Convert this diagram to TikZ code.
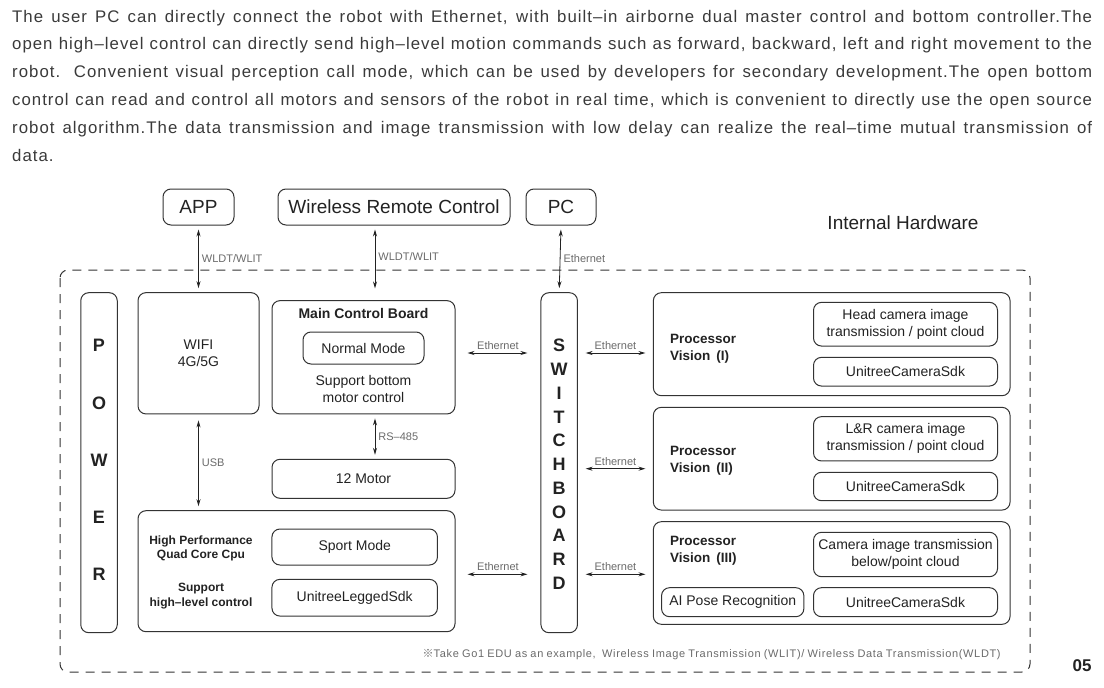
\documentclass[tikz,border=0pt]{standalone}
\usepackage{fontspec}
\setmainfont{Liberation Sans}
\newfontfamily\widefont[LetterSpace=6]{Liberation Sans}
\newfontfamily\cjkfont{Noto Sans CJK SC}
\usetikzlibrary{arrows.meta}
\newcommand\sz[2]{\fontsize{#1}{#2}\selectfont}
\definecolor{ink}{HTML}{222222}
\definecolor{edgec}{HTML}{333333}
\definecolor{soft}{HTML}{6A6A6A}
\definecolor{para}{HTML}{3A3A3A}

\begin{document}
\begin{tikzpicture}[x=1pt, y=-1pt,
    blk/.style={draw=edgec, line width=1pt, rounded corners=8pt, text=ink, align=center, inner sep=0pt, font=\sz{14}{17}},
    tall/.style={blk, minimum width=36.5pt, minimum height=340pt},
    letter/.style={text=ink, font=\bfseries\sz{18}{20}, inner sep=0pt},
    wirelbl/.style={text=soft, font=\sz{11}{13}, inner sep=3pt},
    bi/.style={{Stealth[length=7pt,width=4pt]}-{Stealth[length=7pt,width=4pt]}, line width=0.8pt, draw=ink}]
    \useasboundingbox (0,0) rectangle (1104,688);

    \foreach \t [count=\i from 0] in {{The user PC can directly connect the robot with Ethernet, with built–in airborne dual master control and bottom controller.The},{open high–level control can directly send high–level motion commands such as forward, backward, left and right movement to the},{robot. Convenient visual perception call mode, which can be used by developers for secondary development.The open bottom},{control can read and control all motors and sensors of the robot in real time, which is convenient to directly use the open source},{robot algorithm.The data transmission and image transmission with low delay can realize the real–time mutual transmission of}}
        \node[anchor=base west, inner sep=0pt, text=para, font=\widefont\sz{16.8}{19}] (line\i) at (12,22+27.8*\i) {\makebox[1080pt][s]{\t}};
    \node[anchor=base west, inner sep=0pt, text=para, font=\widefont\sz{16.8}{19}] (line5) at (12,161) {data.};

    \node[blk, font=\sz{19}{22}, minimum width=71pt, minimum height=36pt] (app) at (198.5,207) {APP};
    \node[blk, font=\sz{19}{22}, minimum width=232pt, minimum height=36pt] (wrc) at (394,207) {Wireless Remote Control};
    \node[blk, font=\sz{19}{22}, minimum width=70pt, minimum height=36pt] (pc) at (561,207) {PC};
    \node[text=ink, font=\sz{19}{22}] (hw) at (903,222.7) {Internal Hardware};

    \draw[edgec, line width=1pt, dash pattern=on 9pt off 7pt, rounded corners=8pt] (60,270) rectangle (1030,672);

    \node[tall] (pow) at (99,462.7) {};
    \foreach \c [count=\i from 0] in {P,O,W,E,R}
        \node[letter] (pow\i) at (99,345.7+57.15*\i) {\c};
    \node[tall] (sw) at (559.2,462.7) {};
    \foreach \c [count=\i from 0] in {S,W,I,T,C,H,B,O,A,R,D}
        \node[letter] (sw\i) at (559.2,345.7+23.76*\i) {\c};

    \node[blk, minimum width=121pt, minimum height=121.3pt] (wifi) at (198.5,353.3) {WIFI\\4G/5G};

    \node[blk, minimum width=183pt, minimum height=113.3pt] (mcb) at (363.5,357.3) {};
    \node[text=ink, font=\bfseries\sz{14}{17}] (mcbt) at (363.5,313.3) {Main Control Board};
    \node[blk, minimum width=121pt, minimum height=32pt] (normal) at (363.5,348) {Normal Mode};
    \node[text=ink, align=center, font=\sz{14}{17}] (mcbs) at (363.5,388.8) {Support bottom\\motor control};
    \node[blk, minimum width=183pt, minimum height=39pt] (motor) at (363.5,478.8) {12 Motor};

    \node[blk, minimum width=317pt, minimum height=121pt] (hp) at (296.5,571.2) {};
    \node[text=ink, align=center, font=\bfseries\sz{12}{14}] (cpu) at (201,548) {High Performance\\Quad Core Cpu};
    \node[text=ink, align=center, font=\bfseries\sz{12}{15}] (hlc) at (201,595.8) {Support\\high–level control};
    \node[blk, minimum width=165.5pt, minimum height=36pt] (sport) at (354.7,547) {Sport Mode};
    \node[blk, minimum width=165.5pt, minimum height=36.7pt] (legged) at (354.7,597.7) {UnitreeLeggedSdk};

    \node[blk, minimum width=356.7pt, minimum height=103pt] (pv1) at (831.7,344.2) {};
    \node[text=ink, align=left, anchor=west, inner sep=0pt, font=\bfseries\sz{13.5}{16.7}] (pv1t) at (670,348.7) {Processor\\Vision~\,(I)};
    \node[blk, minimum width=184pt, minimum height=43.7pt] (cam1) at (905.5,324.2) {Head camera image\\transmission / point cloud};
    \node[blk, minimum width=184pt, minimum height=28.7pt] (sdk1) at (905.5,371.7) {UnitreeCameraSdk};

    \node[blk, minimum width=356.7pt, minimum height=102.7pt] (pv2) at (831.7,458.7) {};
    \node[text=ink, align=left, anchor=west, inner sep=0pt, font=\bfseries\sz{13.5}{16.7}] (pv2t) at (670,460.7) {Processor\\Vision~\,(II)};
    \node[blk, minimum width=184pt, minimum height=44.3pt] (cam2) at (905.5,438.8) {L\&R camera image\\transmission / point cloud};
    \node[blk, minimum width=184pt, minimum height=28.4pt] (sdk2) at (905.5,486.5) {UnitreeCameraSdk};

    \node[blk, minimum width=356.7pt, minimum height=102.6pt] (pv3) at (831.7,573) {};
    \node[text=ink, align=left, anchor=west, inner sep=0pt, font=\bfseries\sz{13.5}{16.7}] (pv3t) at (670,551) {Processor\\Vision~\,(III)};
    \node[blk, minimum width=184pt, minimum height=44.4pt] (cam3) at (905.5,554.5) {Camera image transmission\\below/point cloud};
    \node[blk, minimum width=142.3pt, minimum height=29pt] (pose) at (732.7,602.2) {AI Pose Recognition};
    \node[blk, minimum width=184pt, minimum height=29pt] (sdk3) at (905.5,602.2) {UnitreeCameraSdk};

    \coordinate (rsx) at (375,0);
    \coordinate (e1) at (0,353);
    \coordinate (e2) at (0,468.7);
    \coordinate (e3) at (0,574.3);

    \draw[bi, shorten <=4pt, shorten >=4pt] (app.south) -- node[wirelbl, right]{WLDT/WLIT} (wifi.north);
    \draw[bi, shorten <=4pt, shorten >=11.7pt] (wrc.south -| rsx) -- node[wirelbl, right, pos=0.42]{WLDT/WLIT} (mcb.north -| rsx);
    \draw[bi, shorten <=4pt, shorten >=4pt] (pc.south) -- node[wirelbl, right]{Ethernet} (sw.north);
    \draw[bi, shorten <=4pt, shorten >=4pt] (mcb.south -| rsx) -- node[wirelbl, right]{RS–485} (motor.north -| rsx);
    \draw[bi, shorten <=6pt, shorten >=4pt] (wifi.south) -- node[wirelbl, right]{USB} (wifi.south |- hp.north);
    \draw[bi, shorten <=12pt, shorten >=13pt] (mcb.east |- e1) -- node[wirelbl, above]{Ethernet} (sw.west |- e1);
    \draw[bi, shorten <=12pt, shorten >=13pt] (hp.east |- e3) -- node[wirelbl, above]{Ethernet} (sw.west |- e3);
    \draw[bi, shorten <=7.7pt, shorten >=7.4pt] (sw.east |- e1) -- node[wirelbl, above]{Ethernet} (pv1.west |- e1);
    \draw[bi, shorten <=7.7pt, shorten >=7.4pt] (sw.east |- e2) -- node[wirelbl, above]{Ethernet} (pv2.west |- e2);
    \draw[bi, shorten <=7.7pt, shorten >=7.4pt] (sw.east |- e3) -- node[wirelbl, above]{Ethernet} (pv3.west |- e3);

    \node[anchor=west, inner sep=0pt, text=soft, font=\widefont\sz{11}{13}] (note) at (422.5,654.5) {\makebox[578pt][s]{{\cjkfont ※}Take Go1 EDU as an example,\ \ Wireless Image Transmission (WLIT)/ Wireless Data Transmission(WLDT)}};
    \node[text=ink, font=\bfseries\sz{17}{20}] (page) at (1082,665.7) {05};
\end{tikzpicture}
\end{document}
